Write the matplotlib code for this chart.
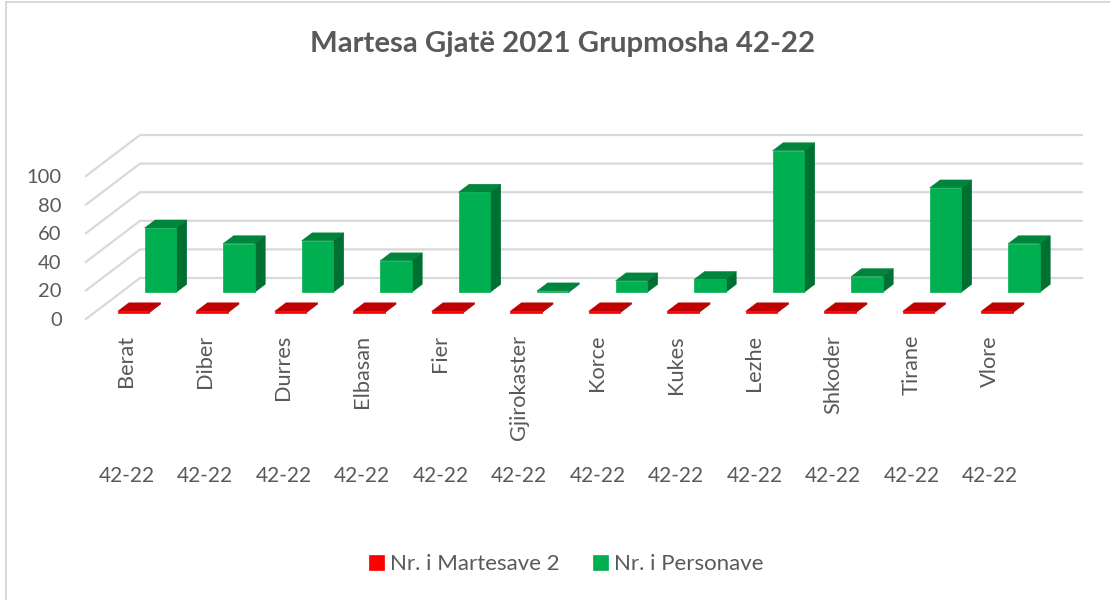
import numpy as np
import matplotlib
matplotlib.use('Agg')
import matplotlib.pyplot as plt
from matplotlib.patches import Polygon

districts = ['Berat', 'Diber', 'Durres', 'Elbasan', 'Fier', 'Gjirokaster',
             'Korce', 'Kukes', 'Lezhe', 'Shkoder', 'Tirane', 'Vlore']
age_group = '42-22'
marriages = [1, 1, 1, 1, 1, 1, 1, 1, 1, 1, 1, 1]
persons = [45, 34, 36, 22, 70, 1, 8, 9, 99, 11, 73, 34]
y_ticks = [0, 20, 40, 60, 80, 100]

TEXT = '#595959'
FONT = 'Lato'
W, H = 1110, 600

# excel style fake 3d: one unit of depth moves this far in x (categories) and y (values)
DEPTH_X = 54 / 78.5
DEPTH_Y = 41 / 1.43
BAR_W = 0.404


def project(x, v, d):
    return x + d * DEPTH_X, v + d * DEPTH_Y


def draw_bars(ax, values, d0, d1, front, top, side, label):
    xs = np.arange(len(values))
    left, base = project(xs - BAR_W / 2, 0, d0)
    ax.bar(left, values, BAR_W, bottom=base, align='edge', color=front,
           edgecolor=front, linewidth=0.5, label=label, clip_on=False, zorder=4)
    for x, v in zip(xs, values):
        l, r = x - BAR_W / 2, x + BAR_W / 2
        top_face = [project(l, v, d0), project(r, v, d0), project(r, v, d1), project(l, v, d1)]
        side_face = [project(r, 0, d0), project(r, v, d0), project(r, v, d1), project(r, 0, d1)]
        ax.add_patch(Polygon(top_face, facecolor=top, edgecolor=top, linewidth=0.3, clip_on=False, zorder=3))
        ax.add_patch(Polygon(side_face, facecolor=side, edgecolor=side, linewidth=0.3, clip_on=False, zorder=3))


fig = plt.figure(figsize=(W / 100, H / 100), dpi=100)
ax = fig.add_axes([86 / W, 1 - 319 / H, 942 / W, 143 / H])
ax.set_xlim(-0.5, 11.5)
ax.set_ylim(0, 100)
for s in ax.spines.values():
    s.set_visible(False)
ax.patch.set_alpha(0)

for t in y_ticks:
    a = project(-0.5, t, 0)
    b = project(-0.5, t, 1)
    c = project(11.5, t, 1)
    ax.plot([a[0], b[0], c[0]], [a[1], b[1], c[1]], color='#d9d9d9', lw=1.6,
            clip_on=False, zorder=1, solid_joinstyle='miter')

draw_bars(ax, marriages, 0.154, 0.36, '#ff0000', '#c00000', '#a50000', 'Nr. i Martesave 2')
draw_bars(ax, persons, 0.651, 0.846, '#00b050', '#00853c', '#006f32', 'Nr. i Personave')

ax.set_yticks(y_ticks)
ax.set_xticks(np.arange(len(districts)) + 0.015)
ax.set_xticklabels(districts, rotation=90, va='top', ha='center', family=FONT)
ax.tick_params(axis='y', length=0, pad=17.5, labelsize=14.5, labelcolor=TEXT)
ax.tick_params(axis='x', length=0, pad=11.5, labelsize=15.7, labelcolor=TEXT)
for lb in ax.get_yticklabels():
    lb.set_family(FONT)

for i in range(len(districts)):
    ax.text(i + 0.015, -157 / 143, age_group, transform=ax.get_xaxis_transform(), ha='center',
            va='center', fontsize=15, color=TEXT, family=FONT)

fig.text(563 / W, 1 - 44 / H, 'Martesa Gjatë 2021 Grupmosha 42-22', ha='center', va='center',
         fontsize=21.2, fontweight='bold', color=TEXT, family=FONT)

leg = fig.legend(loc='center', bbox_to_anchor=(566.5 / W, 1 - 564 / H), ncol=2, frameon=False,
                 prop={'family': FONT, 'size': 16}, labelcolor=TEXT, handlelength=0.68, handleheight=0.68,
                 handletextpad=0.27, columnspacing=1.5)

# faint chart border, left and top only
fig.add_artist(plt.Line2D([5.8 / W, 5.8 / W, 1], [0, 1 - 2 / H, 1 - 2 / H], color='#d9d9d9', lw=1.44,
                          solid_joinstyle='miter'))

fig.savefig('out.png', dpi=100)
